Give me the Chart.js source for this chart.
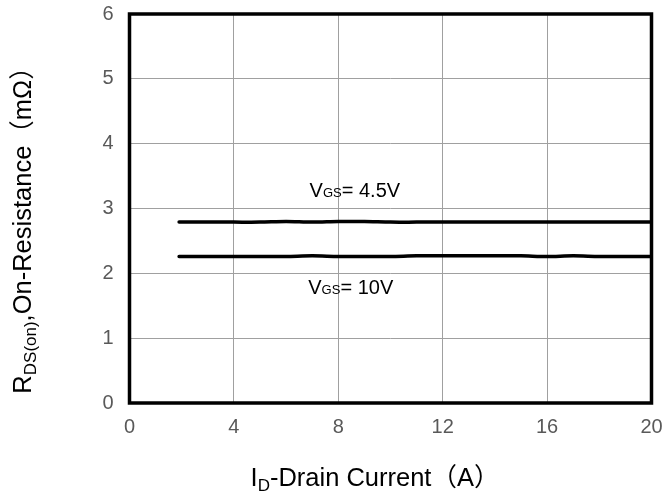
<!DOCTYPE html>
<html>
<head>
<meta charset="utf-8">
<script src="https://cdn.jsdelivr.net/npm/chart.js@4/dist/chart.umd.min.js"></script>
<style>
  html, body { margin: 0; padding: 0; background: #fff; }
  #wrap { width: 665px; height: 497px; }
</style>
</head>
<body>
<div id="wrap"><canvas id="rdsChart" width="665" height="497"></canvas></div>
<script>
// drain current (A) and on-resistance (mOhm)
const currentA = [1.9, 3, 4, 5, 6, 7, 8, 9, 10, 11, 12, 13, 14, 15, 16, 17, 18, 19, 20];
const rdsVgs45 = [2.79, 2.79, 2.79, 2.79, 2.80, 2.79, 2.80, 2.80, 2.79, 2.79, 2.79, 2.79, 2.79, 2.79, 2.79, 2.79, 2.79, 2.79, 2.79];
const rdsVgs10 = [2.26, 2.26, 2.26, 2.26, 2.26, 2.27, 2.26, 2.26, 2.26, 2.27, 2.27, 2.27, 2.27, 2.27, 2.26, 2.27, 2.26, 2.26, 2.26];
const xTicks = [0, 4, 8, 12, 16, 20];
const yTicks = [0, 1, 2, 3, 4, 5, 6];

// curve labels: [x, y, main, sub, rest]
const curveLabels = [
    [6.9, 3.29, 'V', 'GS', '= 4.5V'],
    [6.85, 1.79, 'V', 'GS', '= 10V']
];

const FONT = '"Liberation Sans", Arial, sans-serif';
const CJK = '"Noto Sans CJK SC", sans-serif';

// draws text pieces one after another, smaller pieces can be shifted down
function drawPieces(ctx, x, y, pieces) {
    let cx = x;
    pieces.forEach(p => {
        ctx.font = p.size + 'px ' + (p.cjk ? CJK : FONT);
        ctx.fillText(p.text, cx, y + (p.dy || 0));
        cx += ctx.measureText(p.text).width;
    });
    return cx - x;
}

function piecesWidth(ctx, pieces) {
    let w = 0;
    pieces.forEach(p => {
        ctx.font = p.size + 'px ' + (p.cjk ? CJK : FONT);
        w += ctx.measureText(p.text).width;
    });
    return w;
}

const framePlugin = {
    id: 'frame',
    afterDraw(chart) {
        const { ctx, chartArea } = chart;
        const xs = chart.scales.x, ys = chart.scales.y;
        ctx.save();

        // thick black frame round the plot
        ctx.strokeStyle = '#000';
        ctx.lineWidth = 3.5;
        ctx.strokeRect(chartArea.left, chartArea.top,
            chartArea.right - chartArea.left, chartArea.bottom - chartArea.top);

        // curve labels
        ctx.fillStyle = '#000';
        ctx.textBaseline = 'alphabetic';
        ctx.textAlign = 'left';
        curveLabels.forEach(l => {
            const px = xs.getPixelForValue(l[0]);
            const py = ys.getPixelForValue(l[1]) + 7;
            drawPieces(ctx, px, py, [
                { text: l[2], size: 20 },
                { text: l[3], size: 13 },
                { text: l[4], size: 20 }
            ]);
        });

        // x axis title
        const xt = [
            { text: 'I', size: 25.5 },
            { text: 'D', size: 17, dy: 5 },
            { text: '-Drain Current', size: 25.5 },
            { text: '（', size: 25.5, cjk: true },
            { text: 'A', size: 25.5 },
            { text: '）', size: 25.5, cjk: true }
        ];
        const xw = piecesWidth(ctx, xt);
        drawPieces(ctx, 375 - xw / 2, 486, xt);

        // y axis title (rotated)
        const yt = [
            { text: 'R', size: 25.5 },
            { text: 'DS(on)', size: 17, dy: 5 },
            { text: ',On-Resistance', size: 25.5 },
            { text: '（', size: 25.5, cjk: true },
            { text: 'mΩ', size: 25.5 },
            { text: '）', size: 25.5, cjk: true }
        ];
        const yw = piecesWidth(ctx, yt);
        ctx.translate(31, 224);
        ctx.rotate(-Math.PI / 2);
        drawPieces(ctx, -yw / 2, 0, yt);

        ctx.restore();
    }
};

const ctx = document.getElementById('rdsChart').getContext('2d');

new Chart(ctx, {
    type: 'scatter',
    data: {
        datasets: [{
            label: 'VGS=4.5V',
            data: currentA.map((x, i) => ({ x, y: rdsVgs45[i] })),
            showLine: true,
            borderColor: '#000',
            borderWidth: 3.5,
            borderCapStyle: 'round',
            pointRadius: 0,
            tension: 0.3
        }, {
            label: 'VGS=10V',
            data: currentA.map((x, i) => ({ x, y: rdsVgs10[i] })),
            showLine: true,
            borderColor: '#000',
            borderWidth: 3.5,
            borderCapStyle: 'round',
            pointRadius: 0,
            tension: 0.3
        }]
    },
    options: {
        responsive: false,
        animation: false,
        layout: { padding: { top: 14, right: 13.5, left: 0, bottom: 0 } },
        plugins: {
            legend: { display: false },
            tooltip: { enabled: false }
        },
        scales: {
            x: {
                type: 'linear',
                min: 0,
                max: 20,
                afterBuildTicks(scale) {
                    scale.ticks = xTicks.map(v => ({ value: v }));
                },
                afterFit(scale) {
                    scale.height = 94;
                    scale.paddingLeft = 0;
                    scale.paddingRight = 0;
                },
                ticks: {
                    color: '#595959',
                    font: { family: FONT, size: 20 },
                    padding: 12,
                    maxRotation: 0
                },
                grid: { color: '#a0a0a0', lineWidth: 1, drawTicks: false },
                border: { display: false }
            },
            y: {
                min: 0,
                max: 6,
                afterBuildTicks(scale) {
                    scale.ticks = yTicks.map(v => ({ value: v }));
                },
                afterFit(scale) {
                    scale.width = 129.5;
                    scale.paddingTop = 0;
                    scale.paddingBottom = 0;
                },
                ticks: {
                    color: '#595959',
                    font: { family: FONT, size: 20 },
                    padding: 16
                },
                grid: { color: '#a0a0a0', lineWidth: 1, drawTicks: false },
                border: { display: false }
            }
        }
    },
    plugins: [framePlugin]
});
</script>
</body>
</html>
